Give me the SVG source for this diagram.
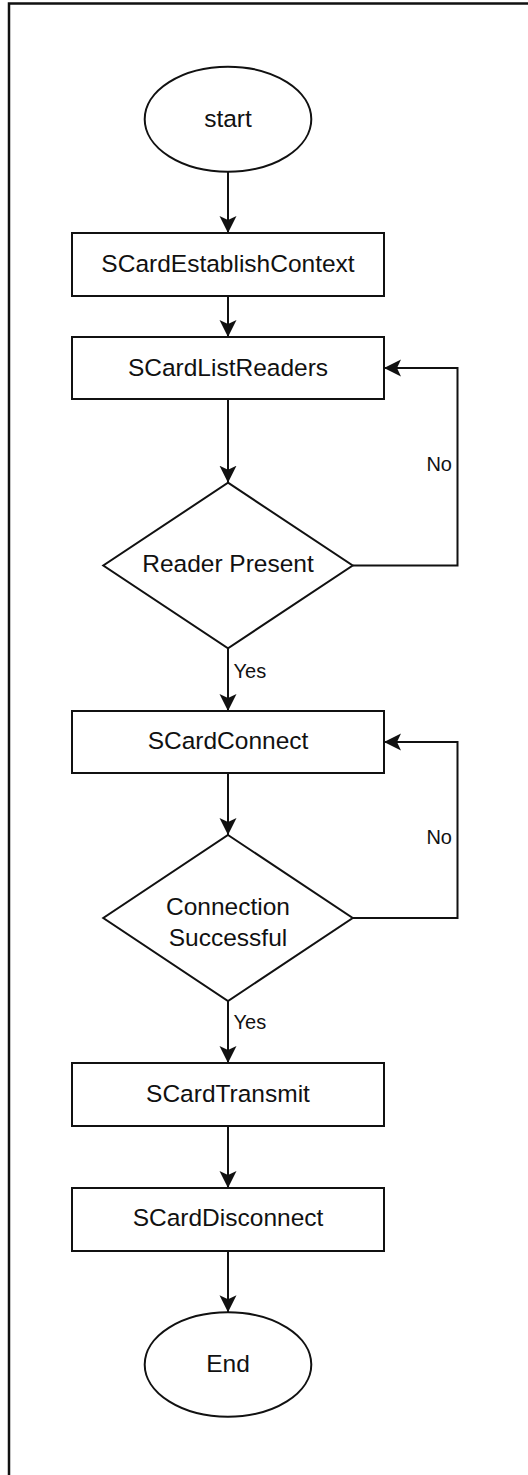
<svg xmlns="http://www.w3.org/2000/svg" width="528" height="1475" viewBox="0 0 528 1475">
<style>
.shape{fill:#fff;stroke:#111;stroke-width:2}
.lbl{font-family:"Liberation Sans",Arial,sans-serif;font-size:24.5px;fill:#111;text-anchor:middle}
.small{font-family:"Liberation Sans",Arial,sans-serif;font-size:20px;fill:#111}
.conn{fill:none;stroke:#111;stroke-width:2}
</style>
<defs>
<marker id="arr" markerUnits="userSpaceOnUse" markerWidth="20" markerHeight="20" viewBox="0 -10 20 20" refX="17" refY="0" orient="auto">
<path d="M0,-8.5 L17,0 L0,8.5 L4,0 Z" fill="#111"/>
</marker>
</defs>
<rect width="528" height="1475" fill="#fff"/>
<path d="M9,1475 V3.5 H528" fill="none" stroke="#111" stroke-width="2.5"/>
<g id="connectors">
<line class="conn" x1="228" y1="171.7" x2="228" y2="233" marker-end="url(#arr)"/>
<line class="conn" x1="228" y1="296" x2="228" y2="337" marker-end="url(#arr)"/>
<line class="conn" x1="228" y1="399" x2="228" y2="482.7" marker-end="url(#arr)"/>
<line class="conn" x1="228" y1="648.3" x2="228" y2="711" marker-end="url(#arr)"/>
<line class="conn" x1="228" y1="773" x2="228" y2="835" marker-end="url(#arr)"/>
<line class="conn" x1="228" y1="1001" x2="228" y2="1063" marker-end="url(#arr)"/>
<line class="conn" x1="228" y1="1126" x2="228" y2="1188" marker-end="url(#arr)"/>
<line class="conn" x1="228" y1="1251" x2="228" y2="1312.3" marker-end="url(#arr)"/>
<path class="conn" d="M352.7,565.5 H457.5 V368 H384" marker-end="url(#arr)"/>
<path class="conn" d="M352.7,918 H457.5 V742 H384" marker-end="url(#arr)"/>
<text class="small" x="452" y="471" text-anchor="end">No</text>
<text class="small" x="233.5" y="677.7">Yes</text>
<text class="small" x="452" y="844" text-anchor="end">No</text>
<text class="small" x="233.5" y="1029">Yes</text>
</g>
<g id="start">
<ellipse class="shape" cx="228" cy="119.2" rx="83.3" ry="52.5"/>
<text class="lbl" x="228" y="126.7">start</text>
</g>
<g id="establish">
<rect class="shape" x="72" y="233" width="312" height="63"/>
<text class="lbl" x="228" y="272">SCardEstablishContext</text>
</g>
<g id="listreaders">
<rect class="shape" x="72" y="337" width="312" height="62"/>
<text class="lbl" x="228" y="376">SCardListReaders</text>
</g>
<g id="readerpresent">
<polygon class="shape" points="228,482.7 352.7,565.5 228,648.3 103.3,565.5"/>
<text class="lbl" x="228" y="572.3">Reader Present</text>
</g>
<g id="connect">
<rect class="shape" x="72" y="711" width="312" height="62"/>
<text class="lbl" x="228" y="749">SCardConnect</text>
</g>
<g id="connsuccess">
<polygon class="shape" points="228,835 352.7,918 228,1001 103.3,918"/>
<text class="lbl" x="228" y="915">Connection</text>
<text class="lbl" x="228" y="945.7">Successful</text>
</g>
<g id="transmit">
<rect class="shape" x="72" y="1063" width="312" height="63"/>
<text class="lbl" x="228" y="1101.7">SCardTransmit</text>
</g>
<g id="disconnect">
<rect class="shape" x="72" y="1188" width="312" height="63"/>
<text class="lbl" x="228" y="1226">SCardDisconnect</text>
</g>
<g id="end">
<ellipse class="shape" cx="228" cy="1364.5" rx="83.3" ry="52.2"/>
<text class="lbl" x="228" y="1371.7">End</text>
</g>
</svg>
